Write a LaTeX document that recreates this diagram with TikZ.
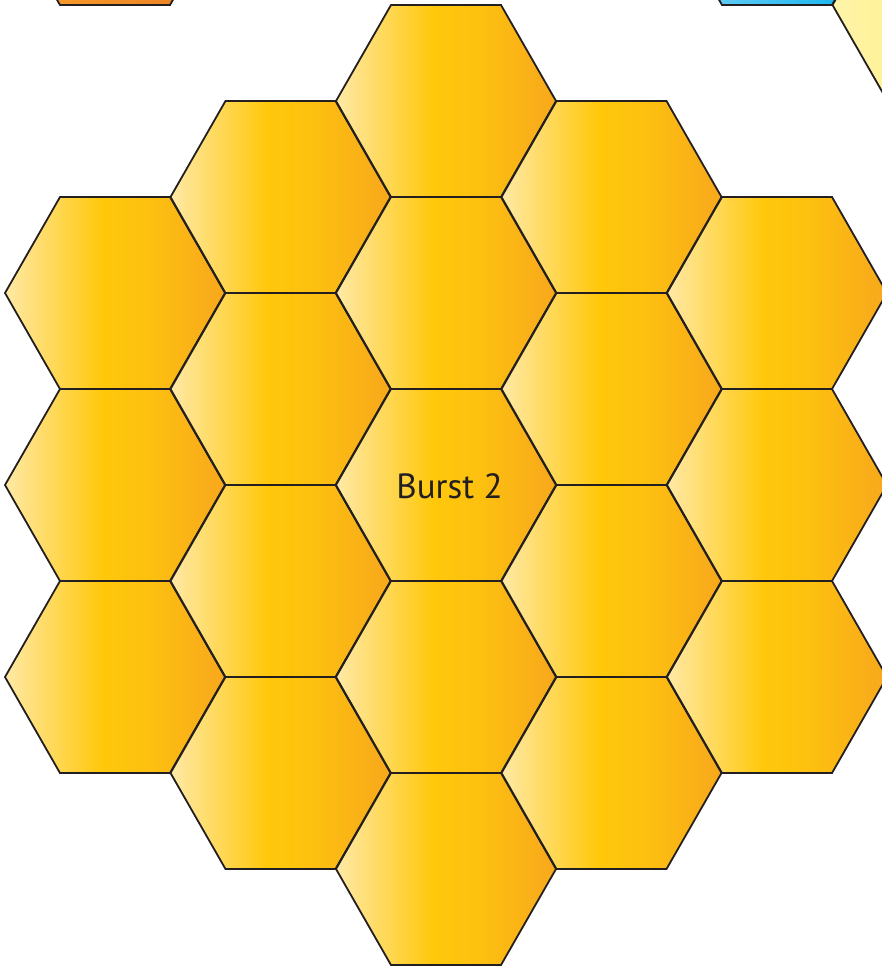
\documentclass[tikz,border=0pt]{standalone}
\usepackage{fontspec}
\setmainfont{PT Sans}
\definecolor{edgec}{HTML}{231F20}
\definecolor{honeyL}{HTML}{FFE9A6}
\definecolor{honeyM}{HTML}{FFC80B}
\definecolor{honeyN}{HTML}{FDC10F}
\definecolor{honeyR}{HTML}{F8A81C}
\definecolor{orangeL}{HTML}{F9A12B}
\definecolor{orangeR}{HTML}{E97B22}
\definecolor{blueL}{HTML}{7BD3F3}
\definecolor{blueR}{HTML}{00AEEF}
\definecolor{paleL}{HTML}{FFF3A8}
\definecolor{paleR}{HTML}{FFF06F}
\pgfdeclarehorizontalshading{honeyshade}{100bp}{color(0bp)=(honeyL); color(25bp)=(honeyL); color(47bp)=(honeyM); color(57bp)=(honeyN); color(75bp)=(honeyR); color(100bp)=(honeyR)}
\tikzset{
  cell/.style={draw=edgec, line width=1.8pt, line join=miter},
  honey/.style={cell, shading=honeyshade},
  orangecell/.style={cell, left color=orangeL, right color=orangeR},
  bluecell/.style={cell, left color=blueL, right color=blueR},
  palecell/.style={cell, left color=paleL, right color=paleR},
  label/.style={text=edgec, font=\fontsize{35}{42}\selectfont, inner sep=0pt}
}
\newcommand{\hexcell}[3]{%
  \path[#1] (#2-110,#3) -- (#2-55,#3-96) -- (#2+55,#3-96) -- (#2+110,#3)
    -- (#2+55,#3+96) -- (#2-55,#3+96) -- cycle;}
\begin{document}
\begin{tikzpicture}[x=1pt,y=-1pt]
\useasboundingbox (0,0) rectangle (882,966);
\clip (0,0) rectangle (882,966);
% partial neighbours at the top
\hexcell{orangecell}{115}{-91}
\hexcell{bluecell}{777}{-91}
\hexcell{palecell}{942.5}{5}
% column 1
\foreach \yy in {293,485,677} {\hexcell{honey}{115}{\yy}}
% column 2
\foreach \yy in {197,389,581,773} {\hexcell{honey}{280.5}{\yy}}
% column 3
\foreach \yy in {101,293,485,677,869} {\hexcell{honey}{446}{\yy}}
% column 4
\foreach \yy in {197,389,581,773} {\hexcell{honey}{611.5}{\yy}}
% column 5
\foreach \yy in {293,485,677} {\hexcell{honey}{777}{\yy}}
\node[label] (burst) at (449.5,486) {Burst 2};
\end{tikzpicture}
\end{document}
